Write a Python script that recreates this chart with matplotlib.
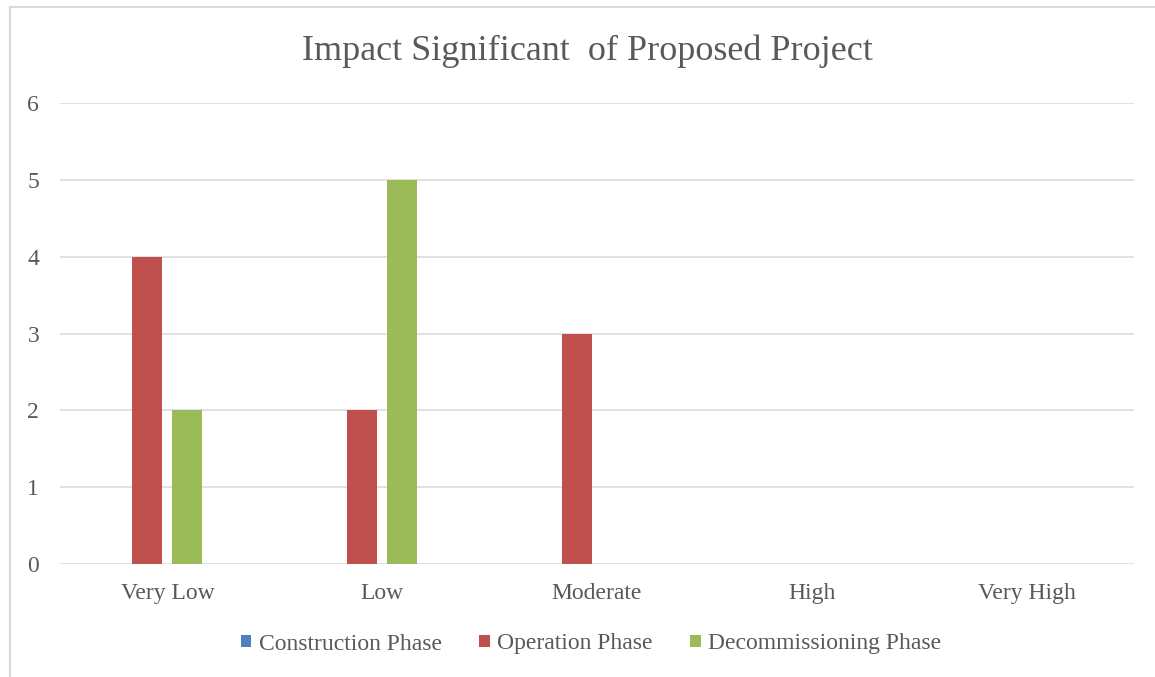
import numpy as np
import matplotlib
matplotlib.use('Agg')
import matplotlib.pyplot as plt
from matplotlib.lines import Line2D

# Impact counts per significance level for each project phase
categories = ['Very Low', 'Low', 'Moderate', 'High', 'Very High']
construction = [0, 0, 0, 0, 0]
operation = [4, 2, 3, 0, 0]
decommissioning = [2, 5, 0, 0, 0]
series_names = ['Construction Phase', 'Operation Phase', 'Decommissioning Phase']

plt.rcParams['font.family'] = ['Liberation Serif', 'DejaVu Serif']
text_color = '#595959'
grid_color = '#D9D9D9'
colors = ['#4F81BD', '#C0504D', '#9BBB59']

fig = plt.figure(figsize=(11.55, 6.77), dpi=100)
ax = fig.add_axes([60 / 1155, 1 - 564 / 677, (1134 - 60) / 1155, (564 - 103) / 677])

x = np.arange(len(categories))
width = 0.14
offsets = [-0.28, -0.093, 0.093]
for vals, off, col, name in zip([construction, operation, decommissioning], offsets, colors, series_names):
    ax.bar(x + off, vals, width, color=col, label=name, linewidth=0, zorder=3)

ax.set_xlim(-0.5, len(categories) - 0.5)
ax.set_ylim(0, 6)
ax.set_yticks(range(0, 7))
ax.set_xticks(x)
ax.set_xticklabels(categories)
ax.tick_params(axis='both', length=0, labelsize=17, colors=text_color)
ax.tick_params(axis='x', pad=14)
ax.tick_params(axis='y', pad=15)
ax.yaxis.grid(True, color=grid_color, linewidth=1.1, zorder=0)
ax.set_axisbelow(True)
for s in ax.spines.values():
    s.set_visible(False)

fig.text(587 / 1155, 1 - 51 / 677, 'Impact Significant  of Proposed Project',
         ha='center', va='center', fontsize=26, color=text_color)

handles, labels = ax.get_legend_handles_labels()
leg = fig.legend(handles, labels, loc='center', bbox_to_anchor=(591 / 1155, 1 - 644 / 677),
                 ncol=3, frameon=False, fontsize=17, handlelength=0.45, handleheight=0.45,
                 handletextpad=0.3, columnspacing=1.6)
for t in leg.get_texts():
    t.set_color(text_color)

# outer chart border
fig.add_artist(Line2D([10 / 1155, 1], [1 - 7 / 677, 1 - 7 / 677], color=grid_color, linewidth=1.5))
fig.add_artist(Line2D([10 / 1155, 10 / 1155], [0, 1 - 7 / 677], color=grid_color, linewidth=1.5))

fig.savefig('out.png', dpi=100, facecolor='white')
